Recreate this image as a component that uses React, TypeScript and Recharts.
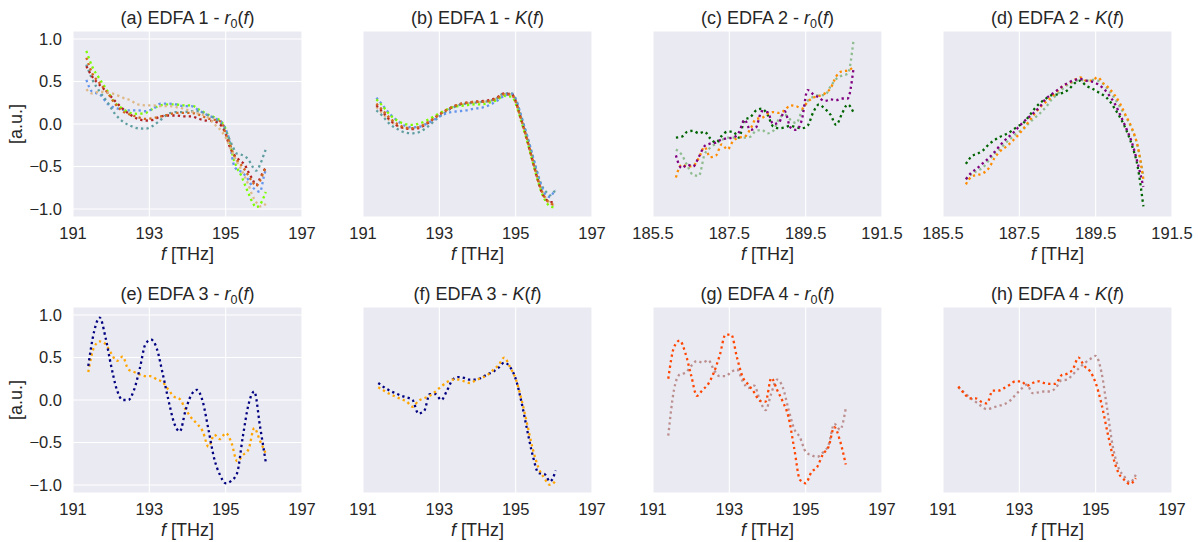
import React from "react";
import { LineChart, Line, XAxis, YAxis, CartesianGrid } from "recharts";

// ---------- frequency grids (THz) ----------
const F_EDFA1 = [191.35, 191.5, 191.7, 191.9, 192.1, 192.3, 192.5, 192.7, 192.9, 193.1, 193.3, 193.5, 193.7, 193.9, 194.1, 194.3, 194.5, 194.7, 194.9, 195.0, 195.1, 195.2, 195.3, 195.4, 195.5, 195.6, 195.7, 195.8, 195.9, 196.0, 196.05];
const F_EDFA2 = [186.1, 186.25, 186.4, 186.55, 186.7, 186.85, 187.0, 187.15, 187.3, 187.45, 187.6, 187.75, 187.9, 188.05, 188.2, 188.35, 188.5, 188.65, 188.8, 188.95, 189.1, 189.25, 189.4, 189.55, 189.7, 189.85, 190.0, 190.15, 190.3, 190.45, 190.6, 190.75];
const F_EDFA34 = [191.4, 191.55, 191.7, 191.85, 192.0, 192.15, 192.3, 192.45, 192.6, 192.75, 192.9, 193.05, 193.2, 193.35, 193.5, 193.65, 193.8, 193.95, 194.1, 194.25, 194.4, 194.55, 194.7, 194.85, 195.0, 195.15, 195.3, 195.45, 195.6, 195.75, 195.9, 196.05];

// ---------- tick labels ----------
const X_TICKS_C = [191, 193, 195, 197];
const X_TICKS_L = [185.5, 187.5, 189.5, 191.5];
const Y_TICKS = [-1.0, -0.5, 0.0, 0.5, 1.0];

// ---------- EDFA 1 : r0(f) ----------
const E1_R0_LAWNGREEN = [0.86, 0.68, 0.53, 0.39, 0.25, 0.18, 0.13, 0.12, 0.13, 0.18, 0.22, 0.23, 0.23, 0.22, 0.22, 0.17, 0.12, 0.08, 0.02, -0.06, -0.2, -0.4, -0.52, -0.6, -0.71, -0.82, -0.92, -0.98, -0.95, -0.86, -0.8];
const E1_R0_CORNFLOWER = [0.52, 0.38, 0.35, 0.24, 0.19, 0.17, 0.16, 0.16, 0.15, 0.18, 0.24, 0.24, 0.23, 0.21, 0.21, 0.16, 0.11, 0.07, 0.02, -0.06, -0.2, -0.46, -0.54, -0.56, -0.6, -0.66, -0.74, -0.78, -0.8, -0.62, -0.54];
const E1_R0_CADET = [0.7, 0.53, 0.38, 0.26, 0.12, 0.03, -0.02, -0.05, -0.055, -0.02, 0.05, 0.12, 0.14, 0.14, 0.15, 0.15, 0.11, 0.07, -0.01, -0.08, -0.18, -0.28, -0.35, -0.36, -0.38, -0.42, -0.5, -0.55, -0.48, -0.36, -0.3];
const E1_R0_FIREBRICK = [0.68, 0.56, 0.46, 0.37, 0.27, 0.18, 0.11, 0.06, 0.04, 0.05, 0.09, 0.1, 0.1, 0.09, 0.09, 0.06, 0.04, 0.03, -0.03, -0.12, -0.26, -0.35, -0.4, -0.44, -0.48, -0.57, -0.65, -0.72, -0.64, -0.55, -0.52];
const E1_R0_CHOCOLATE = [0.78, 0.6, 0.48, 0.37, 0.24, 0.15, 0.11, 0.08, 0.06, 0.07, 0.09, 0.11, 0.13, 0.13, 0.13, 0.11, 0.07, 0.05, 0.02, -0.12, -0.22, -0.35, -0.43, -0.48, -0.54, -0.61, -0.68, -0.73, -0.67, -0.56, -0.52];
const E1_R0_BURLYWOOD = [0.41, 0.36, 0.38, 0.37, 0.35, 0.31, 0.28, 0.23, 0.22, 0.22, 0.21, 0.21, 0.2, 0.18, 0.15, 0.12, 0.09, 0.0, -0.09, -0.16, -0.26, -0.36, -0.45, -0.53, -0.62, -0.72, -0.84, -0.92, -0.97, -0.96, -0.94];

// ---------- EDFA 1 : K(f) ----------
const E1_K_LAWNGREEN = [0.29, 0.22, 0.11, 0.04, 0.0, -0.01, 0.01, 0.05, 0.1, 0.15, 0.19, 0.21, 0.22, 0.23, 0.23, 0.25, 0.28, 0.33, 0.32, 0.24, 0.1, -0.05, -0.2, -0.37, -0.54, -0.7, -0.83, -0.92, -0.97, -0.98, -0.97];
const E1_K_CORNFLOWER = [0.31, 0.23, 0.12, 0.04, -0.02, -0.04, -0.03, 0.01, 0.06, 0.11, 0.14, 0.15, 0.16, 0.18, 0.19, 0.22, 0.27, 0.33, 0.35, 0.29, 0.16, 0.01, -0.14, -0.3, -0.47, -0.63, -0.76, -0.84, -0.86, -0.8, -0.78];
const E1_K_CADET = [0.16, 0.1, 0.0, -0.06, -0.1, -0.11, -0.09, -0.03, 0.05, 0.12, 0.18, 0.22, 0.24, 0.25, 0.26, 0.27, 0.3, 0.36, 0.36, 0.3, 0.16, 0.01, -0.14, -0.3, -0.46, -0.62, -0.74, -0.8, -0.84, -0.8, -0.78];
const E1_K_FIREBRICK = [0.22, 0.15, 0.05, -0.02, -0.05, -0.06, -0.04, 0.01, 0.08, 0.14, 0.19, 0.23, 0.25, 0.26, 0.27, 0.28, 0.31, 0.36, 0.35, 0.27, 0.12, -0.03, -0.19, -0.36, -0.53, -0.69, -0.82, -0.89, -0.92, -0.92, -0.93];
const E1_K_CHOCOLATE = [0.24, 0.17, 0.07, 0.0, -0.04, -0.05, -0.03, 0.02, 0.08, 0.14, 0.19, 0.23, 0.25, 0.26, 0.26, 0.27, 0.3, 0.35, 0.34, 0.26, 0.12, -0.03, -0.18, -0.35, -0.52, -0.68, -0.81, -0.89, -0.93, -0.95, -0.95];
const E1_K_BURLYWOOD = [0.2, 0.13, 0.04, -0.02, -0.05, -0.05, -0.03, 0.02, 0.08, 0.14, 0.19, 0.22, 0.24, 0.25, 0.26, 0.27, 0.3, 0.35, 0.35, 0.27, 0.13, -0.02, -0.17, -0.34, -0.51, -0.67, -0.8, -0.88, -0.93, -0.95, -0.94];

// ---------- EDFA 2 : r0(f) ----------
const E2_R0_DARKGREEN = [-0.16, -0.15, -0.09, -0.08, -0.11, -0.09, -0.17, -0.22, -0.14, -0.09, -0.09, -0.16, 0.05, 0.08, 0.16, 0.18, 0.11, -0.03, -0.05, -0.04, -0.02, -0.04, -0.05, -0.02, 0.14, 0.23, 0.18, 0.11, -0.01, 0.12, 0.23, 0.14];
const E2_R0_PURPLE = [-0.37, -0.52, -0.48, -0.5, -0.39, -0.26, -0.23, -0.22, -0.18, -0.17, -0.16, -0.1, 0.05, -0.07, -0.04, 0.15, 0.14, 0.0, 0.02, 0.15, -0.04, -0.07, 0.05, 0.4, 0.35, 0.31, 0.27, 0.29, 0.28, 0.3, 0.3, 0.64];
const E2_R0_DARKORANGE = [-0.63, -0.48, -0.5, -0.49, -0.4, -0.27, -0.39, -0.37, -0.24, -0.3, -0.2, -0.16, -0.15, -0.06, 0.06, 0.07, 0.12, 0.14, 0.13, 0.16, 0.22, 0.21, 0.18, 0.26, 0.31, 0.33, 0.36, 0.42, 0.56, 0.62, 0.63, 0.67];
const E2_R0_SEAGREEN = [-0.3, -0.36, -0.49, -0.6, -0.61, -0.36, -0.28, -0.23, -0.19, -0.16, -0.16, -0.16, -0.16, -0.15, -0.08, -0.07, -0.11, -0.08, 0.06, 0.11, 0.05, 0.01, 0.15, 0.27, 0.32, 0.34, 0.34, 0.44, 0.53, 0.57, 0.59, 0.97];

// ---------- EDFA 2 : K(f) ----------
const E2_K_DARKGREEN = [-0.47, -0.38, -0.35, -0.31, -0.24, -0.19, -0.15, -0.12, -0.08, -0.03, 0.01, 0.09, 0.18, 0.25, 0.3, 0.34, 0.35, 0.37, 0.41, 0.48, 0.51, 0.45, 0.42, 0.38, 0.34, 0.28, 0.18, 0.07, -0.07, -0.25, -0.5, -0.97];
const E2_K_PURPLE = [-0.65, -0.57, -0.52, -0.46, -0.4, -0.33, -0.25, -0.18, -0.12, -0.05, 0.02, 0.08, 0.14, 0.21, 0.3, 0.35, 0.4, 0.45, 0.49, 0.52, 0.53, 0.51, 0.5, 0.47, 0.42, 0.34, 0.24, 0.1, -0.05, -0.22, -0.46, -0.74];
const E2_K_DARKORANGE = [-0.71, -0.62, -0.6, -0.58, -0.52, -0.4, -0.32, -0.27, -0.21, -0.14, -0.06, 0.03, 0.12, 0.2, 0.26, 0.32, 0.39, 0.45, 0.48, 0.52, 0.55, 0.51, 0.51, 0.55, 0.48, 0.42, 0.34, 0.23, 0.09, -0.05, -0.26, -0.65];
const E2_K_SEAGREEN = [-0.65, -0.59, -0.55, -0.51, -0.43, -0.35, -0.29, -0.22, -0.16, -0.1, -0.06, 0.01, 0.07, 0.13, 0.2, 0.29, 0.35, 0.42, 0.47, 0.5, 0.52, 0.51, 0.52, 0.51, 0.47, 0.39, 0.3, 0.19, 0.08, -0.06, -0.26, -0.62];

// ---------- EDFA 3 ----------
const E3_R0_NAVY = [0.4, 0.8, 0.97, 0.74, 0.4, 0.12, 0.0, 0.0, 0.12, 0.37, 0.66, 0.71, 0.6, 0.31, 0.0, -0.27, -0.37, -0.12, 0.06, 0.12, -0.02, -0.35, -0.69, -0.88, -0.98, -0.95, -0.86, -0.43, -0.05, 0.1, -0.31, -0.73];
const E3_R0_ORANGE = [0.33, 0.62, 0.69, 0.66, 0.55, 0.46, 0.51, 0.36, 0.33, 0.3, 0.28, 0.28, 0.24, 0.21, 0.12, 0.04, 0.01, -0.11, -0.21, -0.28, -0.37, -0.55, -0.41, -0.46, -0.39, -0.5, -0.72, -0.65, -0.58, -0.33, -0.48, -0.63];
const E3_K_NAVY = [0.2, 0.15, 0.11, 0.08, 0.05, 0.03, 0.0, -0.16, -0.13, 0.07, 0.07, 0.0, 0.11, 0.24, 0.27, 0.26, 0.24, 0.24, 0.26, 0.3, 0.33, 0.38, 0.44, 0.39, 0.25, -0.02, -0.35, -0.66, -0.86, -0.87, -0.96, -0.83];
const E3_K_ORANGE = [0.15, 0.11, 0.07, 0.04, 0.01, -0.02, -0.08, -0.01, 0.02, 0.05, 0.1, 0.16, 0.21, 0.24, 0.24, 0.22, 0.2, 0.23, 0.26, 0.29, 0.35, 0.41, 0.5, 0.39, 0.25, 0.01, -0.28, -0.58, -0.8, -0.92, -1.0, -0.95];

// ---------- EDFA 4 ----------
const E4_R0_ORANGERED = [0.25, 0.62, 0.7, 0.55, 0.29, 0.05, 0.12, 0.19, 0.33, 0.53, 0.77, 0.77, 0.5, 0.27, 0.18, 0.09, -0.01, -0.02, 0.26, 0.12, -0.02, -0.2, -0.57, -0.94, -0.98, -0.85, -0.79, -0.64, -0.55, -0.32, -0.48, -0.76];
const E4_R0_ROSYBROWN = [-0.42, 0.12, 0.3, 0.32, 0.4, 0.46, 0.44, 0.47, 0.35, 0.28, 0.28, 0.33, 0.36, 0.22, 0.14, 0.17, 0.0, -0.12, 0.08, 0.24, 0.15, -0.11, -0.34, -0.44, -0.61, -0.65, -0.67, -0.62, -0.53, -0.28, -0.35, -0.1];
const E4_K_ORANGERED = [0.16, 0.08, 0.02, 0.02, -0.02, -0.04, 0.11, 0.11, 0.14, 0.18, 0.22, 0.22, 0.17, 0.2, 0.22, 0.2, 0.19, 0.19, 0.29, 0.31, 0.36, 0.5, 0.4, 0.34, 0.2, -0.04, -0.36, -0.66, -0.86, -0.94, -0.99, -0.92];
const E4_K_ROSYBROWN = [0.15, 0.09, 0.03, -0.02, -0.07, -0.11, -0.09, -0.07, -0.05, -0.01, 0.06, 0.13, 0.18, 0.08, 0.09, 0.1, 0.1, 0.14, 0.23, 0.24, 0.3, 0.37, 0.43, 0.48, 0.52, 0.33, -0.1, -0.55, -0.8, -0.9, -0.97, -0.88];

// ---------- colours ----------
const LAWNGREEN = "#7CFC00";
const CORNFLOWER = "#6495ED";
const CADET = "#5F9EA0";
const FIREBRICK = "#B22222";
const CHOCOLATE = "#D2691E";
const BURLYWOOD = "#DEB887";
const DARKGREEN = "#006400";
const PURPLE = "#800080";
const DARKORANGE = "#FF8C00";
const SEAGREEN = "#8FBC8F";
const NAVY = "#000080";
const ORANGE = "#FFA500";
const ORANGERED = "#FF4500";
const ROSYBROWN = "#BC8F8F";

const FONT = "Arial, 'Liberation Sans', Helvetica, sans-serif";
const TEXT = "#262626";
const BG = "#EAEAF2";

const COL_LEFT = [73, 363, 653, 943];
const ROW_TOP = [31, 307];
const PW = 229;
const PH = 186;
const TICK_FS = 16.5;
const LABEL_FS = 18;

type PanelDef = {
  letter: string;
  edfa: number;
  fn: "r0" | "K";
  f: number[];
  series: number[][];
  colors: string[];
  xTicks: number[];
  col: number;
  row: number;
};

const PANELS: PanelDef[] = [
  { letter: "a", edfa: 1, fn: "r0", f: F_EDFA1, series: [E1_R0_LAWNGREEN, E1_R0_CORNFLOWER, E1_R0_CADET, E1_R0_FIREBRICK, E1_R0_CHOCOLATE, E1_R0_BURLYWOOD], colors: [LAWNGREEN, CORNFLOWER, CADET, FIREBRICK, CHOCOLATE, BURLYWOOD], xTicks: X_TICKS_C, col: 0, row: 0 },
  { letter: "b", edfa: 1, fn: "K", f: F_EDFA1, series: [E1_K_BURLYWOOD, E1_K_CADET, E1_K_CORNFLOWER, E1_K_LAWNGREEN, E1_K_FIREBRICK, E1_K_CHOCOLATE], colors: [BURLYWOOD, CADET, CORNFLOWER, LAWNGREEN, FIREBRICK, CHOCOLATE], xTicks: X_TICKS_C, col: 1, row: 0 },
  { letter: "c", edfa: 2, fn: "r0", f: F_EDFA2, series: [E2_R0_SEAGREEN, E2_R0_DARKGREEN, E2_R0_DARKORANGE, E2_R0_PURPLE], colors: [SEAGREEN, DARKGREEN, DARKORANGE, PURPLE], xTicks: X_TICKS_L, col: 2, row: 0 },
  { letter: "d", edfa: 2, fn: "K", f: F_EDFA2, series: [E2_K_SEAGREEN, E2_K_DARKGREEN, E2_K_DARKORANGE, E2_K_PURPLE], colors: [SEAGREEN, DARKGREEN, DARKORANGE, PURPLE], xTicks: X_TICKS_L, col: 3, row: 0 },
  { letter: "e", edfa: 3, fn: "r0", f: F_EDFA34, series: [E3_R0_ORANGE, E3_R0_NAVY], colors: [ORANGE, NAVY], xTicks: X_TICKS_C, col: 0, row: 1 },
  { letter: "f", edfa: 3, fn: "K", f: F_EDFA34, series: [E3_K_NAVY, E3_K_ORANGE], colors: [NAVY, ORANGE], xTicks: X_TICKS_C, col: 1, row: 1 },
  { letter: "g", edfa: 4, fn: "r0", f: F_EDFA34, series: [E4_R0_ROSYBROWN, E4_R0_ORANGERED], colors: [ROSYBROWN, ORANGERED], xTicks: X_TICKS_C, col: 2, row: 1 },
  { letter: "h", edfa: 4, fn: "K", f: F_EDFA34, series: [E4_K_ROSYBROWN, E4_K_ORANGERED], colors: [ROSYBROWN, ORANGERED], xTicks: X_TICKS_C, col: 3, row: 1 },
];

const fmtY = (v: number) => (v < 0 ? "\u2212" + Math.abs(v).toFixed(1) : v.toFixed(1));
const fmtX = (v: number) => String(v);

const ML = 70;
const MT = 5;
const MR = 24;
const XH = 30;
const MB = 20;

function Panel({ p }: { p: PanelDef }) {
  const rows = p.f.map((x, i) => {
    const r: Record<string, number> = { f: x };
    p.series.forEach((s, j) => {
      r["s" + j] = s[i];
    });
    return r;
  });
  const left = COL_LEFT[p.col];
  const top = ROW_TOP[p.row];
  const showY = p.col === 0;
  return (
    <div style={{ position: "absolute", left: left - ML, top: top - MT }}>
      <LineChart
        width={ML + PW + MR}
        height={MT + PH + XH + MB}
        data={rows}
        margin={{ top: MT, right: MR, bottom: MB, left: 0 }}
      >
        <CartesianGrid fill={BG} stroke="#FFFFFF" strokeWidth={1.1} />
        <XAxis
          dataKey="f"
          type="number"
          domain={[p.xTicks[0], p.xTicks[p.xTicks.length - 1]]}
          ticks={p.xTicks}
          interval={0}
          tickFormatter={fmtX}
          axisLine={false}
          tickLine={false}
          tickSize={0}
          tickMargin={10.5}
          height={XH}
          tick={{ fontSize: TICK_FS, fill: TEXT, fontFamily: FONT }}
        />
        <YAxis
          type="number"
          domain={[-1.095, 1.095]}
          ticks={Y_TICKS}
          interval={0}
          allowDataOverflow
          tickFormatter={fmtY}
          axisLine={false}
          tickLine={false}
          tickSize={0}
          tickMargin={11}
          width={ML}
          tick={showY ? { fontSize: TICK_FS, fill: TEXT, fontFamily: FONT } : false}
        />
        {p.series.map((_, j) => (
          <Line
            key={j}
            dataKey={"s" + j}
            type="monotone"
            stroke={p.colors[j]}
            strokeWidth={2.3}
            strokeDasharray="2.3 3.2"
            dot={false}
            activeDot={false}
            isAnimationActive={false}
          />
        ))}
      </LineChart>
    </div>
  );
}

function Title({ p }: { p: PanelDef }) {
  const cx = COL_LEFT[p.col] + PW / 2;
  const y = ROW_TOP[p.row] - 7;
  return (
    <text x={cx} y={y} textAnchor="middle" fontSize={LABEL_FS} fill={TEXT} fontFamily={FONT}>
      {`(${p.letter}) EDFA ${p.edfa} - `}
      {p.fn === "r0" ? (
        <>
          <tspan fontStyle="italic">r</tspan>
          <tspan fontSize={12.5} dy={3.5}>0</tspan>
          <tspan dy={-3.5}>(</tspan>
        </>
      ) : (
        <>
          <tspan fontStyle="italic">K</tspan>
          <tspan>(</tspan>
        </>
      )}
      <tspan fontStyle="italic">f</tspan>
      <tspan>)</tspan>
    </text>
  );
}

function XLabel({ p }: { p: PanelDef }) {
  const cx = COL_LEFT[p.col] + PW / 2;
  const y = ROW_TOP[p.row] + PH + 43;
  return (
    <text x={cx} y={y} textAnchor="middle" fontSize={LABEL_FS} fill={TEXT} fontFamily={FONT}>
      <tspan fontStyle="italic">f</tspan>
      <tspan> [THz]</tspan>
    </text>
  );
}

export default function App() {
  return (
    <div style={{ position: "absolute", left: 0, top: 0, width: 1198, height: 542, background: "#FFFFFF", overflow: "hidden" }}>
      {PANELS.map((p) => (
        <Panel key={p.letter} p={p} />
      ))}
      <svg width={1198} height={542} style={{ position: "absolute", left: 0, top: 0, pointerEvents: "none" }}>
        {PANELS.map((p) => (
          <Title key={"t" + p.letter} p={p} />
        ))}
        {PANELS.map((p) => (
          <XLabel key={"x" + p.letter} p={p} />
        ))}
        {ROW_TOP.map((t, i) => (
          <text
            key={"y" + i}
            x={15.5}
            y={t + PH / 2}
            transform={`rotate(-90 15.5 ${t + PH / 2})`}
            textAnchor="middle"
            dominantBaseline="central"
            fontSize={LABEL_FS}
            fill={TEXT}
            fontFamily={FONT}
          >
            [a.u.]
          </text>
        ))}
      </svg>
    </div>
  );
}
